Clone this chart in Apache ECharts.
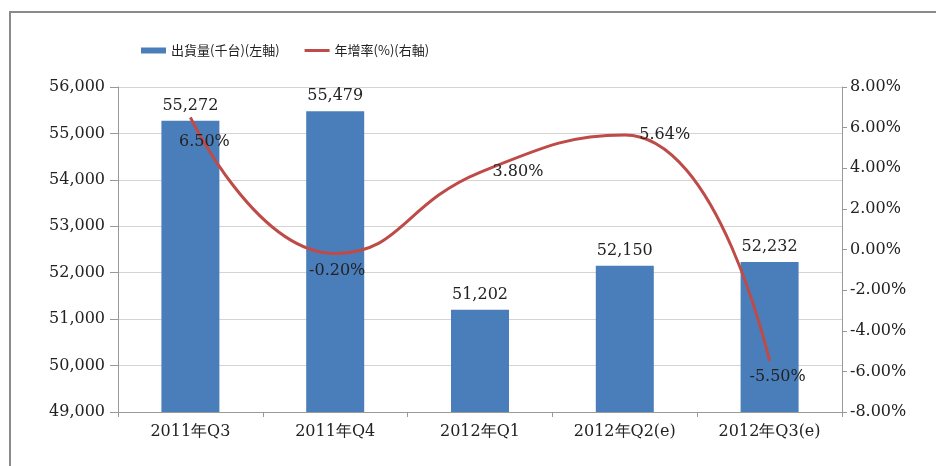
<!DOCTYPE html>
<html>
<head>
<meta charset="utf-8">
<script src="https://cdn.jsdelivr.net/npm/echarts@6/dist/echarts.min.js"></script>
<style>
  html, body { margin: 0; padding: 0; background: #fff; }
  #main { width: 936px; height: 466px; }
</style>
</head>
<body>
<div id="main"></div>
<script>
var categories = ['2011年Q3', '2011年Q4', '2012年Q1', '2012年Q2(e)', '2012年Q3(e)'];
var shipments = [55272, 55479, 51202, 52150, 52232];
var growth = [6.50, -0.20, 3.80, 5.64, -5.50];
var barName = '出貨量(千台)(左軸)';
var lineName = '年增率(%)(右軸)';

// label placement for each growth point (dx = horizontal shift)
var growthLabelPos = [
  { position: 'bottom', distance: 16, dx: 14 },
  { position: 'bottom', distance: 9, dx: 2 },
  { position: 'right', distance: 12, dx: 0 },
  { position: 'right', distance: 14, dx: 0 },
  { position: 'bottom', distance: 7, dx: 8 }
];

function commas(v) {
  return String(v).replace(/\B(?=(\d{3})+(?!\d))/g, ',');
}

var serif = 'DejaVu Serif';
var txt = '#222';

var myChart = echarts.init(document.getElementById('main'));
var option = {
  animation: false,
  backgroundColor: '#fff',
  textStyle: { fontFamily: serif },
  graphic: [{
    type: 'rect',
    shape: { x: 10, y: 12, width: 940, height: 470 },
    style: { fill: 'none', stroke: '#8a8a8a', lineWidth: 2 },
    silent: true
  }],
  legend: {
    left: 136,
    top: 39,
    itemWidth: 25,
    itemHeight: 6,
    itemGap: 25,
    textStyle: { fontFamily: 'Noto Sans CJK TC', fontSize: 13, color: txt },
    data: [
      { name: barName, icon: 'rect' },
      { name: lineName, icon: 'path://M0,0L25,0L25,3L0,3Z', itemStyle: { color: '#be4b48' } }
    ]
  },
  grid: { left: 118, right: 94, top: 87, bottom: 54 },
  xAxis: {
    type: 'category',
    data: categories,
    axisLine: { onZero: false, lineStyle: { color: '#999' } },
    axisTick: { show: true, length: 5, lineStyle: { color: '#999' } },
    axisLabel: { color: txt, fontSize: 16, fontFamily: serif, margin: 12 }
  },
  yAxis: [{
    type: 'value',
    min: 49000,
    max: 56000,
    interval: 1000,
    axisLine: { show: true, lineStyle: { color: '#999' } },
    axisTick: { show: true, length: 8, lineStyle: { color: '#999' } },
    axisLabel: { color: txt, fontSize: 16, fontFamily: serif, margin: 13, formatter: commas },
    splitLine: { lineStyle: { color: '#d4d4d4' } }
  }, {
    type: 'value',
    min: -8,
    max: 8,
    interval: 2,
    position: 'right',
    axisLine: { show: true, lineStyle: { color: '#999' } },
    axisTick: { show: true, length: 5, lineStyle: { color: '#999' } },
    axisLabel: { color: txt, fontSize: 16, fontFamily: serif, margin: 8,
      formatter: function (v) { return v.toFixed(2) + '%'; } },
    splitLine: { show: false }
  }],
  series: [{
    name: barName,
    type: 'bar',
    data: shipments,
    barWidth: 58,
    itemStyle: { color: '#4a7ebb' },
    label: {
      show: true, position: 'top', distance: 7,
      color: txt, fontSize: 16, fontFamily: serif,
      formatter: function (p) { return commas(p.value); }
    }
  }, {
    name: lineName,
    type: 'line',
    yAxisIndex: 1,
    smooth: 0.5,
    symbol: 'circle',
    symbolSize: 1,
    showSymbol: true,
    lineStyle: { color: '#be4b48', width: 3 },
    itemStyle: { color: 'rgba(190,75,72,0)' },
    data: growth.map(function (v, i) {
      var lp = growthLabelPos[i];
      return {
        value: v,
        label: {
          show: true, position: lp.position, distance: lp.distance,
          padding: [0, 0, 0, lp.dx * 2],
          color: txt, fontSize: 16, fontFamily: serif,
          formatter: function (p) { return p.value.toFixed(2) + '%'; }
        }
      };
    })
  }]
};
myChart.setOption(option);
</script>
</body>
</html>
